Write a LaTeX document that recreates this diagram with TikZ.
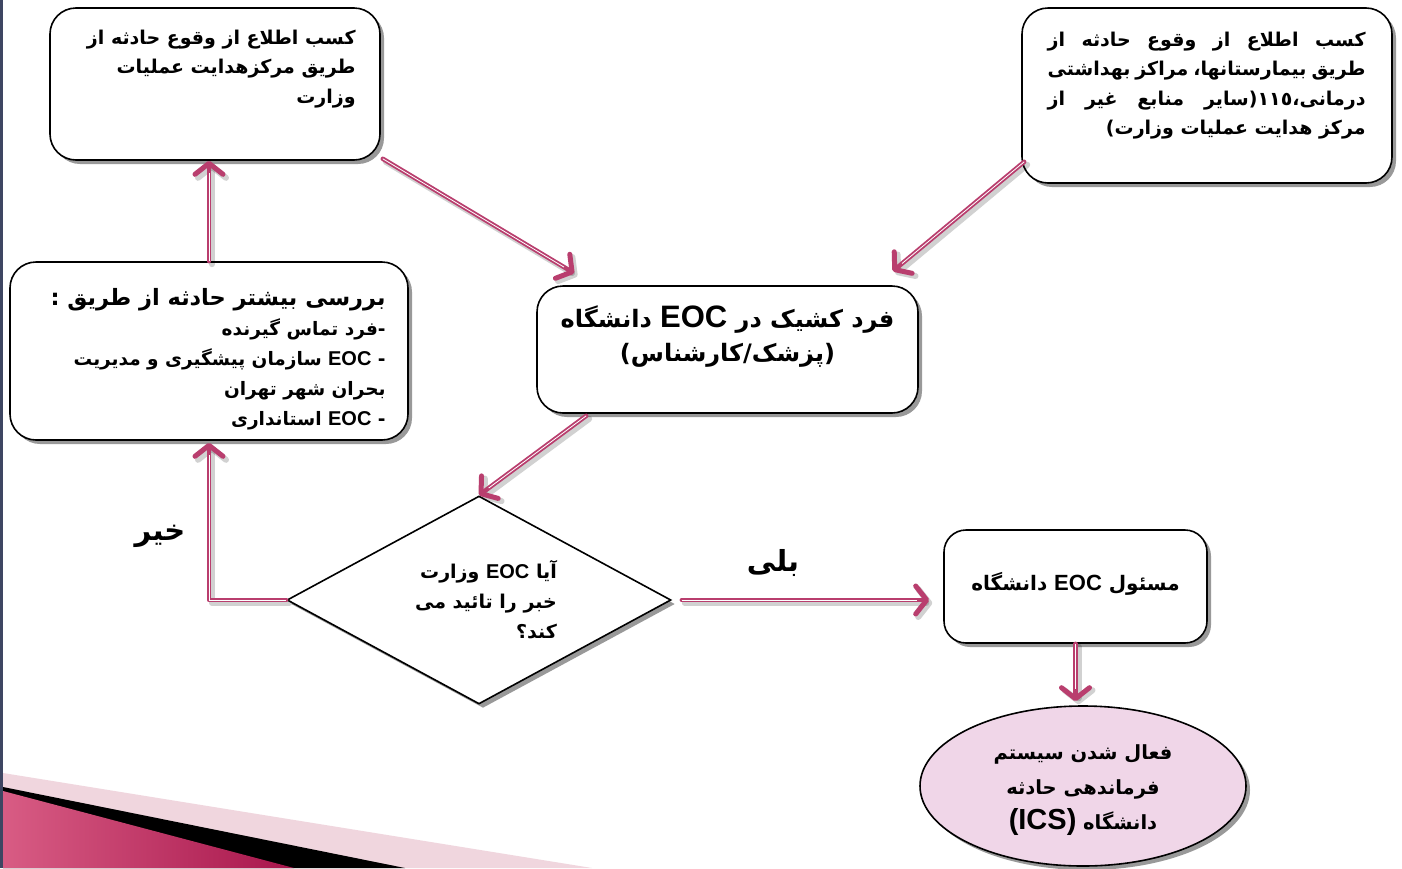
\documentclass[tikz,border=0pt]{standalone}
\usepackage{fontspec}
\usetikzlibrary{shapes.geometric,arrows.meta,calc,shadows}
\newfontfamily\fa[Script=Arabic]{DejaVu Sans}
\newfontfamily\la{Liberation Sans}
\TeXXeTstate=1
\newcommand\rl[1]{\beginR#1\endR}
\newcommand\lat[2]{\beginL{\la\bfseries\fontsize{#1}{#1}\selectfont #2}\endL}
\definecolor{pk}{RGB}{185,62,110}
\definecolor{lpk}{RGB}{240,214,222}
\definecolor{ellfill}{RGB}{240,214,232}
\definecolor{edge}{RGB}{62,70,98}
\tikzset{
  box/.style={draw=black, line width=1.6pt, fill=white, rounded corners=26pt,
    drop shadow={shadow xshift=4pt,shadow yshift=-4pt,fill=black!50,opacity=0.8}},
  txt/.style={font=\fa\bfseries\fontsize{19}{29.5}\selectfont, inner sep=0pt, align=right},
  ctxt/.style={font=\fa\bfseries\fontsize{19}{29.5}\selectfont, inner sep=0pt, align=center},
  conn/.style={draw=pk, line width=4.5pt, line cap=round, line join=round,
    -{Straight Barb[round,length=11pt,width=28pt,line width=5pt]}},
  shd/.style={draw=black, opacity=0.18, line width=6pt, line cap=round, line join=round,
    -{Straight Barb[round,length=11pt,width=28pt,line width=6pt]}, transform canvas={xshift=3pt,yshift=-3pt}},
  mid/.style={draw=white, line width=0.8pt},
  lbl/.style={font=\fa\bfseries\fontsize{29}{32}\selectfont, inner sep=0pt}
}
\begin{document}
\begin{tikzpicture}[x=1pt,y=-1pt]
\useasboundingbox (0,0) rectangle (1402,868);
\fill[white] (0,0) rectangle (1402,868);
% left edge strip
\fill[edge] (0,0) rectangle (3,868);
% bottom-left band
\fill[lpk] (3,773) -- (592,868) -- (3,868) -- cycle;
\fill[black] (3,787) -- (405,868) -- (3,868) -- cycle;
\shade[left color={rgb,255:red,216;green,92;blue,132}, right color={rgb,255:red,168;green,22;blue,76}]
  (3,791) -- (294,868) -- (3,868) -- cycle;

% boxes
\node[box, minimum width=330pt, minimum height=152pt] (tl) at (215,84) {};
\node[box, minimum width=370pt, minimum height=175pt] (tr) at (1207,95.5) {};
\node[box, minimum width=398pt, minimum height=178pt] (lb) at (209,351) {};
\node[box, minimum width=381pt, minimum height=127pt] (ctr) at (727.5,349.5) {};
\node[draw=black, line width=1.6pt, fill=white, diamond, minimum width=384pt, minimum height=208pt,
  inner sep=0pt, drop shadow={shadow xshift=4pt,shadow yshift=-4pt,fill=black!50,opacity=0.8}] (dm) at (479,600) {};
\node[box, rounded corners=22pt, minimum width=263pt, minimum height=113pt] (rb) at (1075.5,586.5) {};
\node[draw=black, line width=1.6pt, fill=ellfill, ellipse, minimum width=326pt, minimum height=160pt,
  drop shadow={shadow xshift=4pt,shadow yshift=-4pt,fill=black!50,opacity=0.8}] (el) at (1083,786) {};

% texts
\node[txt, anchor=east] (tlt) at ($(tl.east)+(-25,-15)$)
  {\rl{کسب اطلاع از وقوع حادثه از}\\ \rl{طریق مرکزهدایت عملیات}\\ \rl{وزارت}};
\node[txt, anchor=east] (trt) at ($(tr.east)+(-27,-10)$)
  {\hbox to 318pt{\beginR کسب\hfill اطلاع\hfill از\hfill وقوع\hfill حادثه\hfill از\endR}\\
   \hbox to 318pt{\beginR طریق\hfill بیمارستانها،\hfill مراکز\hfill بهداشتی\endR}\\
   \hbox to 318pt{\beginR درمانی،\beginL١١٥\endL(سایر\hfill منابع\hfill غیر\hfill از\endR}\\
   \hbox to 318pt{\hfill\beginR مرکز هدایت عملیات وزارت)\endR}};
\node[txt, anchor=east, font=\fa\bfseries\fontsize{18.5}{30}\selectfont] (lbt) at ($(lb.east)+(-23,8)$)
  {{\fontsize{22.5}{30}\selectfont\rl{بررسی بیشتر حادثه از طریق :}}\\
   \rl{-فرد تماس گیرنده}\\
   \rl{- \lat{20}{EOC} سازمان پیشگیری و مدیریت}\\
   \rl{بحران شهر تهران}\\
   \rl{- \lat{20}{EOC} استانداری}};
\node[ctxt, font=\fa\bfseries\fontsize{24}{34}\selectfont] (ctt) at ($(ctr.center)+(0,-13)$)
  {\rl{فرد کشیک در \lat{31}{EOC} دانشگاه}\\ \rl{(پزشک/کارشناس)}};
\node[txt, anchor=east, font=\fa\bfseries\fontsize{19}{30}\selectfont] (dmt) at ($(dm.center)+(78,0)$)
  {\rl{آیا \lat{20}{EOC} وزارت}\\ \rl{خبر را تائید می}\\ \rl{کند؟}};
\node[ctxt, font=\fa\bfseries\fontsize{20}{30}\selectfont] (rbt) at ($(rb.center)+(0,-3)$) {\rl{مسئول \lat{22}{EOC} دانشگاه}};
\node[ctxt, font=\fa\bfseries\fontsize{19.5}{35}\selectfont] (elt) at ($(el.center)+(0,4)$)
  {\rl{فعال شدن سیستم}\\ \rl{فرماندهی حادثه}\\ \rl{دانشگاه \lat{29}{(ICS)}}};
\node[lbl] (no) at (160,536) {\rl{خیر}};
\node[lbl] (yes) at (773,563) {\rl{بلی}};

% connectors
\coordinate (a1s) at ($(tl.south east)+(2,-2)$);
\coordinate (a1e) at ($(ctr.north west)+(38,-12)$);
\draw[shd] (a1s) -- (a1e);
\draw[conn] (a1s) -- (a1e);
\draw[mid, shorten >=12pt] (a1s) -- (a1e);

\coordinate (a2s) at ($(tr.south west)+(3,-22)$);
\coordinate (a2e) at ($(ctr.north east)+(-26,-14)$);
\draw[shd] (a2s) -- (a2e);
\draw[conn] (a2s) -- (a2e);
\draw[mid, shorten >=12pt] (a2s) -- (a2e);

\coordinate (a3s) at ($(ctr.south west)+(50,2)$);
\draw[shd] (a3s) -- (dm.north);
\draw[conn] (a3s) -- (dm.north);
\draw[mid, shorten >=12pt] (a3s) -- (dm.north);

\coordinate (a4e) at (lb.north |- tl.south);
\draw[shd] (lb.north) -- (a4e);
\draw[conn] (lb.north) -- (a4e);
\draw[mid, shorten >=12pt] (lb.north) -- (a4e);

\coordinate (a5e) at ($(lb.south)+(0,2)$);
\draw[shd] (dm.west) -| (a5e);
\draw[conn] (dm.west) -| (a5e);
\draw[mid, shorten >=12pt] (dm.west) -| (a5e);

\coordinate (a6s) at ($(dm.east)+(10,0)$);
\coordinate (a6e) at ($(a6s -| rb.west)+(-14,0)$);
\draw[shd] (a6s) -- (a6e);
\draw[conn] (a6s) -- (a6e);
\draw[mid, shorten >=12pt] (a6s) -- (a6e);

\coordinate (a7e) at ($(rb.south |- el.north)+(0,-4)$);
\draw[shd] (rb.south) -- (a7e);
\draw[conn] (rb.south) -- (a7e);
\draw[mid, shorten >=12pt] (rb.south) -- (a7e);
\end{tikzpicture}
\end{document}
